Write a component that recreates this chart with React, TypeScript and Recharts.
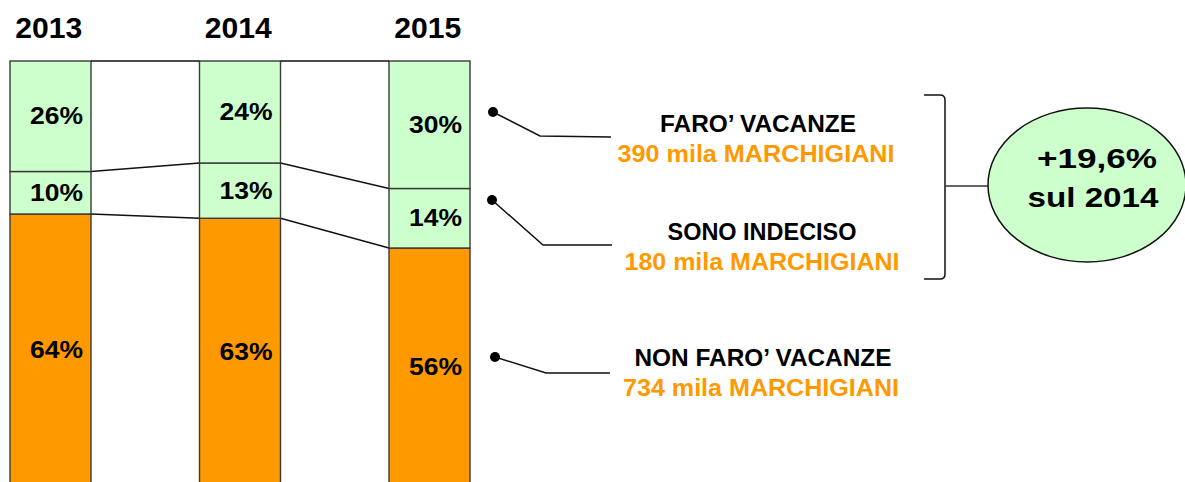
import { BarChart, Bar, XAxis, YAxis, LabelList } from 'recharts'

const years = ['2013', '2014', '2015']
const nonFaro = [64, 63, 56]
const indeciso = [10, 13, 14]
const faro = [26, 24, 30]

const groupNames = ['FARO’ VACANZE', 'SONO INDECISO', 'NON FARO’ VACANZE']
const groupCounts = ['390 mila MARCHIGIANI', '180 mila MARCHIGIANI', '734 mila MARCHIGIANI']
const growthLines = ['+19,6%', 'sul 2014']

const data = years.map((year, i) => ({
  year,
  nonFaro: nonFaro[i],
  indeciso: indeciso[i],
  faro: faro[i],
}))

const GREEN = '#ccffcc'
const ORANGE = '#ff9900'
const FONT = '"Liberation Sans", Arial, sans-serif'

// top edge of each segment, filled while rendering so the next bar can draw its series line
const tops: Record<string, { right: number; y: number }[]> = {}

const segmentShape = (key: string, fill: string) => (props: any) => {
  const { x, y, width, height, index } = props
  const row = tops[key] || (tops[key] = [])
  row[index] = { right: x + width, y }
  const prev = index > 0 ? row[index - 1] : null
  return (
    <g>
      <rect x={x} y={y} width={width} height={height} fill={fill} stroke="#3a3a3a" strokeWidth={1.4} />
      {prev && <line x1={prev.right} y1={prev.y} x2={x} y2={y} stroke="#111" strokeWidth={1.3} />}
    </g>
  )
}

const pctLabel = (props: any) => {
  const box = props.viewBox ?? props
  const { x, y, width, height } = box
  return (
    <text
      x={x + width / 2 + 6}
      y={y + height / 2 + 8}
      textAnchor="middle"
      fontFamily={FONT}
      fontWeight="bold"
      fontSize={24}
      textLength={53}
      lengthAdjust="spacingAndGlyphs"
      fill="#000"
    >
      {props.value}%
    </text>
  )
}

const YearTick = (props: any) => {
  const { x, y, payload } = props
  return (
    <text
      x={x - 2}
      y={y}
      dy={-15}
      textAnchor="middle"
      fontFamily={FONT}
      fontWeight="bold"
      fontSize={29}
      textLength={67}
      lengthAdjust="spacingAndGlyphs"
      fill="#000"
    >
      {payload.value}
    </text>
  )
}

const callouts = [
  { dot: [493, 112], path: 'M493,112 L540,136 L611,137', name: [758, 132], count: [756, 162] },
  { dot: [492, 200], path: 'M492,200 L543,245 L612,245', name: [762, 240], count: [762, 270] },
  { dot: [495, 357], path: 'M495,357 L546,373 L610,373', name: [763, 366], count: [761, 396] },
]
const nameWidths = [196, 189, 257]
const countWidths = [277, 275, 276]

function Annotations() {
  return (
    <svg width={1185} height={482} style={{ position: 'absolute', left: 0, top: 0 }}>
      {callouts.map((c, i) => (
        <g key={i}>
          <circle cx={c.dot[0]} cy={c.dot[1]} r={5} fill="#000" />
          <path d={c.path} fill="none" stroke="#111" strokeWidth={1.5} />
          <text x={c.name[0]} y={c.name[1]} textAnchor="middle" fontFamily={FONT} fontWeight="bold"
            fontSize={23} textLength={nameWidths[i]} lengthAdjust="spacingAndGlyphs" fill="#000">
            {groupNames[i]}
          </text>
          <text x={c.count[0]} y={c.count[1]} textAnchor="middle" fontFamily={FONT} fontWeight="bold"
            fontSize={23} textLength={countWidths[i]} lengthAdjust="spacingAndGlyphs" fill={ORANGE}>
            {groupCounts[i]}
          </text>
        </g>
      ))}
      <path d="M924,95 L940,95 Q945,95 945,100 L945,274 Q945,279 940,279 L924,279" fill="none" stroke="#111" strokeWidth={1.5} />
      <path d="M945,186 L989,186" stroke="#333" strokeWidth={1.5} />
      <ellipse cx={1087} cy={185} rx={99} ry={77} fill={GREEN} stroke="#111" strokeWidth={1.5} />
      <text x={1097} y={168} textAnchor="middle" fontFamily={FONT} fontWeight="bold" fontSize={28}
        textLength={120} lengthAdjust="spacingAndGlyphs" fill="#000">
        {growthLines[0]}
      </text>
      <text x={1093} y={207} textAnchor="middle" fontFamily={FONT} fontWeight="bold" fontSize={28}
        textLength={131} lengthAdjust="spacingAndGlyphs" fill="#000">
        {growthLines[1]}
      </text>
    </svg>
  )
}

export default function App() {
  return (
    <div style={{ position: 'absolute', left: 0, top: 0, width: 1185, height: 482, overflow: 'hidden', background: '#fff' }}>
      <div style={{ position: 'absolute', left: -60, top: 0 }}>
        <BarChart
          width={620}
          height={500}
          data={data}
          margin={{ top: 31, left: 16, right: 35.5, bottom: 14 }}
          barSize={81}
        >
          <XAxis dataKey="year" orientation="top" height={30} axisLine={false} tickLine={false} tick={<YearTick />} interval={0} />
          <YAxis hide domain={[0, 100]} type="number" />
          <Bar dataKey="nonFaro" stackId="s" isAnimationActive={false} shape={segmentShape('nonFaro', ORANGE)}>
            <LabelList dataKey="nonFaro" content={pctLabel} />
          </Bar>
          <Bar dataKey="indeciso" stackId="s" isAnimationActive={false} shape={segmentShape('indeciso', GREEN)}>
            <LabelList dataKey="indeciso" content={pctLabel} />
          </Bar>
          <Bar dataKey="faro" stackId="s" isAnimationActive={false} shape={segmentShape('faro', GREEN)}>
            <LabelList dataKey="faro" content={pctLabel} />
          </Bar>
        </BarChart>
      </div>
      <Annotations />
    </div>
  )
}
